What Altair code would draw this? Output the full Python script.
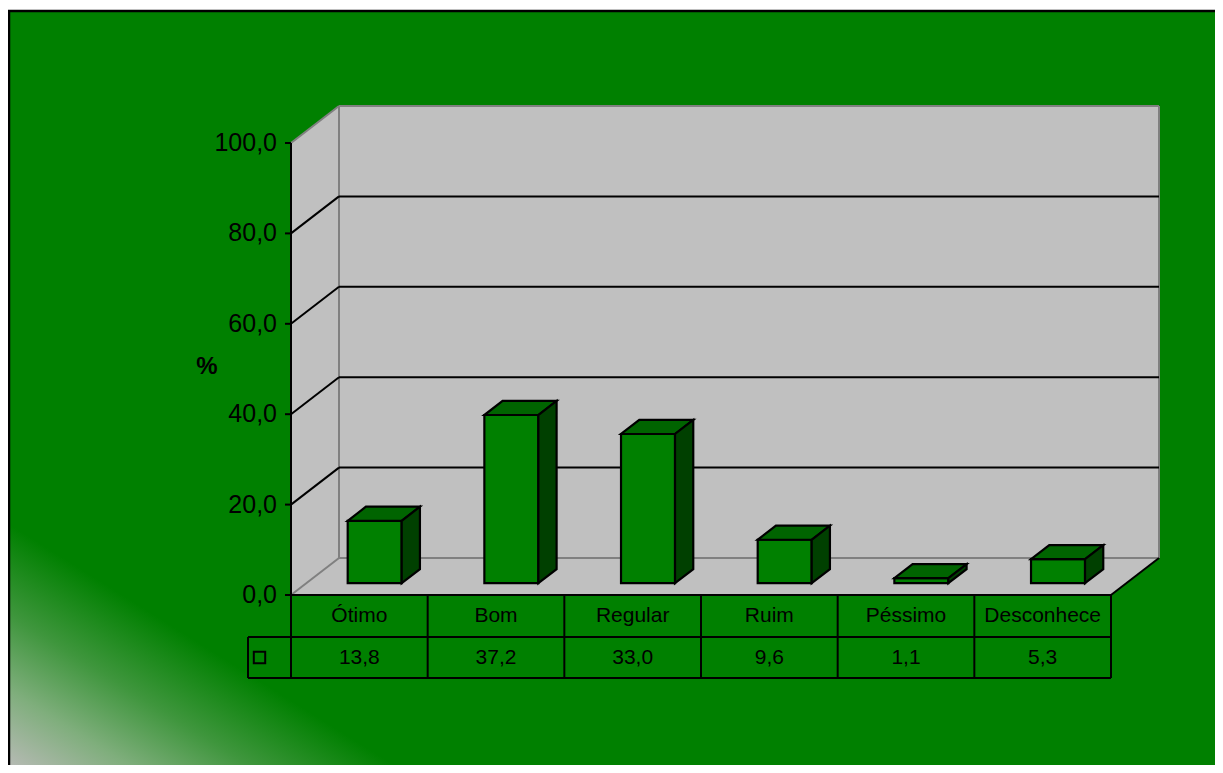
import altair as alt
import pandas as pd

# ---- data ----
categories = ["Ótimo", "Bom", "Regular", "Ruim", "Péssimo", "Desconhece"]
values = [13.8, 37.2, 33.0, 9.6, 1.1, 5.3]
y_ticks = [0, 20, 40, 60, 80, 100]
grid_values = [20, 40, 60, 80]
y_label = "%"

# ---- layout constants ----
W, H = 1207, 757
TOP_GAP = 2           # white strip above the green panel
PX_X = 820 / 6.0      # pixels per category column
PX_Y = 4.52           # pixels per percentage point
X0 = 291 - 8          # x pixel of category origin inside chart
Y0 = 595 - 8          # y pixel of value 0 inside chart
x_dom = [-X0 / PX_X, (W - X0) / PX_X]
y_dom = [-(H - Y0) / PX_Y, Y0 / PX_Y]

DX = 48 / PX_X        # depth offset (3D) in x units
DY = 37 / PX_Y        # depth offset (3D) in y units
BAR_W = 54 / PX_X
D0 = 0.32             # bar front depth fraction
BD = 0.38             # bar depth fraction
TICK = 6 / PX_X
LEG_X = (248 - 291) / PX_X
ROW1 = (595 - 637) / PX_Y
ROW2 = (595 - 678) / PX_Y
HEAD_Y = (595 - 616) / PX_Y
VAL_Y = (595 - 657.5) / PX_Y
N = len(categories)

FONT = "Liberation Sans"
GREEN = "#008000"
TOP = "#006400"
SIDE = "#004000"
WALL = "#c0c0c0"
EDGE = "#808080"

xs = alt.Scale(domain=x_dom, nice=False, zero=False)
ys = alt.Scale(domain=y_dom, nice=False, zero=False)


def X(f):
    return alt.X(f, type="quantitative", scale=xs, axis=None)


def Y(f):
    return alt.Y(f, type="quantitative", scale=ys, axis=None)


def X2(f):
    return alt.X2(f)


def Y2(f):
    return alt.Y2(f)


one = pd.DataFrame({"a": [0]})

# background with gradient
bg = alt.Chart(one).mark_rect(
    fill={
        "gradient": "linear",
        "x1": 0, "y1": 1, "x2": 1, "y2": 0,
        "stops": [
            {"offset": 0.0, "color": "#b6bab4"},
            {"offset": 0.05, "color": "#7fae7c"},
            {"offset": 0.10, "color": "#3f963d"},
            {"offset": 0.16, "color": GREEN},
            {"offset": 1.0, "color": GREEN},
        ],
    },
    stroke=None,
).encode(x=alt.value(0), x2=alt.value(W), y=alt.value(TOP_GAP), y2=alt.value(H))

border = alt.Chart(pd.DataFrame({"x": [1, 0], "x2": [1, W], "y": [TOP_GAP, TOP_GAP + 1],
                                 "y2": [H, TOP_GAP + 1]})).mark_rule(
    color="black", strokeWidth=2.5
).encode(x=alt.X("x:Q", scale=None, axis=None), x2="x2", y=alt.Y("y:Q", scale=None, axis=None), y2="y2")

# walls and floor
back_wall = alt.Chart(pd.DataFrame({"x": [DX], "x2": [N + DX], "y": [DY], "y2": [100 + DY]})).mark_rect(
    fill=WALL
).encode(x=X("x"), x2=X2("x2"), y=Y("y"), y2=Y2("y2"))

left_wall = alt.Chart(pd.DataFrame({"x": [0, DX], "y": [0, DY], "y2": [100, 100 + DY]})).mark_area(
    fill=WALL, orient="vertical"
).encode(x=X("x"), y=Y("y"), y2=Y2("y2"))

floor = alt.Chart(pd.DataFrame({"x": [0, DX, N, N + DX], "y": [0, 0, 0, DY], "y2": [0, DY, DY, DY]})).mark_area(
    fill=WALL, orient="vertical"
).encode(x=X("x"), y=Y("y"), y2=Y2("y2"))

# grid lines (black)
seg_black = []
for v in grid_values:
    seg_black.append((0, v, DX, v + DY))
    seg_black.append((DX, v + DY, N + DX, v + DY))
seg_black.append((0, 0, 0, 100))                    # axis line
seg_black.append((0, 0, 0, ROW2))                   # axis line through table
seg_black.append((N, 0, N + DX, DY))                # floor right edge
for v in y_ticks:
    seg_black.append((-TICK, v, 0, v))              # ticks
# table lines
seg_black.append((0, 0, N, 0))
seg_black.append((LEG_X, ROW1, N, ROW1))
seg_black.append((LEG_X, ROW2, N, ROW2))
seg_black.append((LEG_X, ROW1, LEG_X, ROW2))
for i in range(1, N + 1):
    seg_black.append((i, 0, i, ROW2))
black_df = pd.DataFrame(seg_black, columns=["x", "y", "x2", "y2"])

seg_grey = [
    (0, 100, DX, 100 + DY),
    (DX, 100 + DY, N + DX, 100 + DY),
    (DX, DY, DX, 100 + DY),
    (N + DX, DY, N + DX, 100 + DY),
    (DX, DY, N + DX, DY),
    (0, 0, DX, DY),
]
grey_df = pd.DataFrame(seg_grey, columns=["x", "y", "x2", "y2"])

grey_lines = alt.Chart(grey_df).mark_rule(color=EDGE, strokeWidth=2).encode(
    x=X("x"), x2=X2("x2"), y=Y("y"), y2=Y2("y2"))
black_lines = alt.Chart(black_df).mark_rule(color="black", strokeWidth=2).encode(
    x=X("x"), x2=X2("x2"), y=Y("y"), y2=Y2("y2"))

# bars (3D boxes)
front_rows, top_rows, side_rows = [], [], []
bdx, bdy = BD * DX, BD * DY
for i, (c, v) in enumerate(zip(categories, values)):
    xl = i + 0.5 - BAR_W / 2 + D0 * DX
    xr = xl + BAR_W
    yb = D0 * DY
    yt = v + D0 * DY
    front_rows.append({"bar": c, "x": xl, "x2": xr, "y": yb, "y2": yt})
    top_rows += [
        {"bar": c, "x": xl, "y": yt, "y2": yt},
        {"bar": c, "x": xl + bdx, "y": yt, "y2": yt + bdy},
        {"bar": c, "x": xr, "y": yt, "y2": yt + bdy},
        {"bar": c, "x": xr + bdx, "y": yt + bdy, "y2": yt + bdy},
    ]
    side_rows += [
        {"bar": c, "x": xr, "y": yb, "y2": yt},
        {"bar": c, "x": xr + bdx, "y": yb + bdy, "y2": yt + bdy},
    ]

front = alt.Chart(pd.DataFrame(front_rows)).mark_rect(
    fill=GREEN, stroke="black", strokeWidth=2.2
).encode(x=X("x"), x2=X2("x2"), y=Y("y"), y2=Y2("y2"))

top = alt.Chart(pd.DataFrame(top_rows)).mark_area(
    fill=TOP, stroke="black", strokeWidth=2.2, orient="vertical", strokeJoin="miter"
).encode(x=X("x"), y=Y("y"), y2=Y2("y2"), detail="bar:N")

side = alt.Chart(pd.DataFrame(side_rows)).mark_area(
    fill=SIDE, stroke="black", strokeWidth=2.2, orient="vertical", strokeJoin="miter"
).encode(x=X("x"), y=Y("y"), y2=Y2("y2"), detail="bar:N")

# texts
tick_df = pd.DataFrame({"v": y_ticks, "label": [f"{t:.1f}".replace(".", ",") for t in y_ticks],
                        "x": [(277 - 291) / PX_X] * len(y_ticks)})
tick_text = alt.Chart(tick_df).mark_text(
    align="right", baseline="middle", font=FONT, fontSize=25, color="black"
).encode(x=X("x"), y=Y("v"), text="label:N")

ylab = alt.Chart(pd.DataFrame({"x": [(207 - 291) / PX_X], "y": [(595 - 367) / PX_Y], "t": [y_label]})).mark_text(
    align="center", baseline="middle", font=FONT, fontSize=24, fontWeight="bold", color="black"
).encode(x=X("x"), y=Y("y"), text="t:N")

table_df = pd.DataFrame({
    "cat": categories,
    "x": [i + 0.5 for i in range(N)],
    "hy": [HEAD_Y] * N,
    "vy": [VAL_Y] * N,
    "val": [f"{v:.1f}".replace(".", ",") for v in values],
})
head_text = alt.Chart(table_df).mark_text(
    align="center", baseline="middle", font=FONT, fontSize=21, color="black"
).encode(x=X("x"), y=Y("hy"), text="cat:N")
val_text = alt.Chart(table_df).mark_text(
    align="center", baseline="middle", font=FONT, fontSize=21, color="black"
).encode(x=X("x"), y=Y("vy"), text="val:N")

legend_key = alt.Chart(pd.DataFrame({"x": [(259.5 - 291) / PX_X], "y": [VAL_Y]})).mark_square(
    size=130, fill=GREEN, stroke="black", strokeWidth=2, opacity=1
).encode(x=X("x"), y=Y("y"))

chart = alt.layer(
    bg, back_wall, left_wall, floor, grey_lines, black_lines,
    front, top, side, tick_text, ylab, head_text, val_text, legend_key, border,
).properties(
    width=W, height=H, padding=0, autosize=alt.AutoSizeParams(type="none")
).configure_view(stroke=None)

chart.save("out.html", embed_options={"renderer": "svg", "actions": False})
